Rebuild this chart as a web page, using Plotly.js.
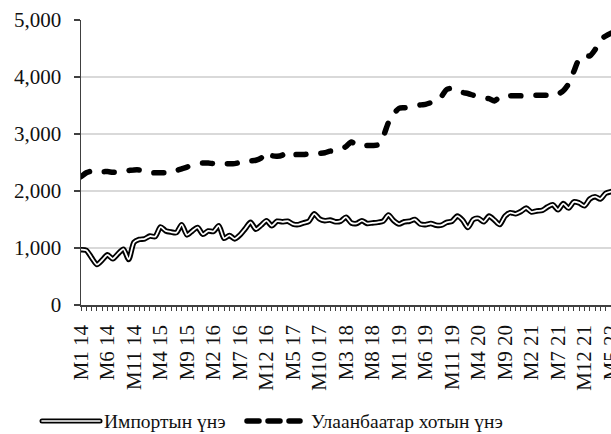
<!DOCTYPE html>
<html>
<head>
<meta charset="utf-8">
<script src="https://cdn.plot.ly/plotly-3.0.1.min.js"></script>
<style>
  html, body { margin: 0; padding: 0; background: #fff; }
  #chart { width: 611px; height: 434px; }
  .js-line { stroke-linecap: round; stroke-linejoin: round; }
  .shapelayer path { stroke-linecap: round; }
</style>
</head>
<body>
<div id="chart"></div>
<script>
// Month categories (Jan 2014 – May 2022)
const months = [
  "M1 14","M2 14","M3 14","M4 14","M5 14","M6 14","M7 14","M8 14","M9 14","M10 14","M11 14","M12 14",
  "M1 15","M2 15","M3 15","M4 15","M5 15","M6 15","M7 15","M8 15","M9 15","M10 15","M11 15","M12 15",
  "M1 16","M2 16","M3 16","M4 16","M5 16","M6 16","M7 16","M8 16","M9 16","M10 16","M11 16","M12 16",
  "M1 17","M2 17","M3 17","M4 17","M5 17","M6 17","M7 17","M8 17","M9 17","M10 17","M11 17","M12 17",
  "M1 18","M2 18","M3 18","M4 18","M5 18","M6 18","M7 18","M8 18","M9 18","M10 18","M11 18","M12 18",
  "M1 19","M2 19","M3 19","M4 19","M5 19","M6 19","M7 19","M8 19","M9 19","M10 19","M11 19","M12 19",
  "M1 20","M2 20","M3 20","M4 20","M5 20","M6 20","M7 20","M8 20","M9 20","M10 20","M11 20","M12 20",
  "M1 21","M2 21","M3 21","M4 21","M5 21","M6 21","M7 21","M8 21","M9 21","M10 21","M11 21","M12 21",
  "M1 22","M2 22","M3 22","M4 22","M5 22"
];

// Labelled ticks
const tickLabels = ["M1 14","M6 14","M11 14","M4 15","M9 15","M2 16","M7 16","M12 16","M5 17","M10 17",
  "M3 18","M8 18","M1 19","M6 19","M11 19","M4 20","M9 20","M2 21","M7 21","M12 21","M5 22"];

// Импортын үнэ
const importPrice = [
  970, 960, 830, 710, 790, 880, 810, 900, 980, 800, 1100, 1150,
  1160, 1210, 1200, 1370, 1300, 1280, 1270, 1410, 1230, 1300, 1360, 1240,
  1300, 1290, 1390, 1170, 1220, 1160, 1230, 1340, 1450, 1330, 1400, 1480,
  1390, 1470, 1460, 1470, 1420, 1410, 1440, 1470, 1600, 1510, 1480, 1490,
  1460, 1470, 1540, 1440, 1430, 1480, 1430, 1440, 1450, 1470, 1580, 1480,
  1420, 1460, 1470, 1500, 1420, 1410, 1430, 1400, 1400, 1450, 1470, 1560,
  1490, 1360, 1500, 1520, 1460, 1560, 1490, 1410, 1560, 1620, 1600, 1640,
  1700, 1630, 1650, 1660, 1720, 1760, 1670, 1780, 1700, 1810, 1790, 1740,
  1860, 1900, 1860, 1960, 1990
];

// Улаанбаатар хотын үнэ
const ubPrice = [
  2250, 2320, 2350, 2350, 2340, 2340, 2330, 2330, 2350, 2360, 2370, 2370,
  2350, 2320, 2320, 2320, 2320, 2340, 2360, 2390, 2420, 2460, 2480, 2490,
  2490, 2480, 2480, 2480, 2480, 2480, 2500, 2520, 2530, 2540, 2580, 2680,
  2620, 2610, 2630, 2690, 2640, 2640, 2640, 2650, 2650, 2660, 2670, 2700,
  2700, 2730, 2780, 2860, 2800, 2790, 2800, 2800, 2810, 2950, 3200, 3350,
  3450, 3460, 3470, 3480, 3510, 3520, 3550, 3600, 3660, 3780, 3800, 3760,
  3730, 3710, 3680, 3650, 3630, 3620, 3580, 3650, 3660, 3670, 3670, 3670,
  3680, 3680, 3680, 3680, 3680, 3680, 3700, 3760, 3880, 4100, 4320, 4380,
  4370, 4480, 4650, 4720, 4770
];

const seriesNames = ["Импортын үнэ", "Улаанбаатар хотын үнэ"];
const yTicks = [0, 1000, 2000, 3000, 4000, 5000];

const FONT = "Liberation Serif, Times New Roman, serif";
const ticktext = months.map(m => tickLabels.includes(m) ? m : "");

const traces = [
  { x: months, y: importPrice, type: "scatter", mode: "lines", name: seriesNames[0],
    line: { color: "#000", width: 5.5, shape: "spline", smoothing: 0.7 },
    showlegend: false, hoverinfo: "skip" },
  { x: months, y: importPrice, type: "scatter", mode: "lines", name: seriesNames[0],
    line: { color: "#fff", width: 1.8, shape: "spline", smoothing: 0.7 },
    showlegend: false, hoverinfo: "skip" },
  { x: months, y: ubPrice, type: "scatter", mode: "lines", name: seriesNames[1],
    line: { color: "#000", width: 5.5, dash: "10px,15px", shape: "spline", smoothing: 0.7 },
    showlegend: false, hoverinfo: "skip" }
];

// custom legend (pixel -> paper conversion for a plot area 81..611 x 20..305)
const px = v => (v - 81) / 530;
const py = v => (305 - v) / 285;
const legY = py(421);

const layout = {
  width: 611, height: 434,
  margin: { l: 81, r: 0, t: 20, b: 129 },
  paper_bgcolor: "#fff", plot_bgcolor: "#fff",
  font: { family: FONT, size: 21, color: "#111" },
  showlegend: false,
  xaxis: {
    type: "category", range: [0, 100],
    tickmode: "array", tickvals: months, ticktext: ticktext,
    tickangle: -90, ticks: "outside", ticklen: 4, tickwidth: 1, tickcolor: "#404040",
    ticklabelstandoff: 6,
    showline: true, linecolor: "#404040", linewidth: 1.5,
    showgrid: false, zeroline: false,
    tickfont: { family: FONT, size: 21, color: "#111" }
  },
  yaxis: {
    range: [0, 5000], tickmode: "array", tickvals: yTicks, tickformat: ",d",
    ticks: "outside", ticklen: 6, tickwidth: 1.5, tickcolor: "#404040",
    ticklabelstandoff: 8,
    showline: true, linecolor: "#404040", linewidth: 1.5,
    showgrid: true, gridcolor: "#d9d9d9", gridwidth: 2, zeroline: false,
    tickfont: { family: FONT, size: 21, color: "#111" }
  },
  shapes: [
    { type: "line", xref: "paper", yref: "paper", x0: px(42), x1: px(100), y0: legY, y1: legY,
      line: { color: "#000", width: 5 } },
    { type: "line", xref: "paper", yref: "paper", x0: px(42), x1: px(100), y0: legY, y1: legY,
      line: { color: "#fff", width: 1.6 } },
    { type: "line", xref: "paper", yref: "paper", x0: px(247), x1: px(300), y0: legY, y1: legY,
      line: { color: "#000", width: 5.5, dash: "12px,9px" } }
  ],
  annotations: [
    { xref: "paper", yref: "paper", x: px(102), y: legY, xanchor: "left", yanchor: "middle",
      text: seriesNames[0], showarrow: false, font: { family: FONT, size: 19.5, color: "#111" } },
    { xref: "paper", yref: "paper", x: px(309), y: legY, xanchor: "left", yanchor: "middle",
      text: seriesNames[1], showarrow: false, font: { family: FONT, size: 19.5, color: "#111" } }
  ]
};

Plotly.newPlot("chart", traces, layout, { staticPlot: true, displayModeBar: false });
</script>
</body>
</html>
